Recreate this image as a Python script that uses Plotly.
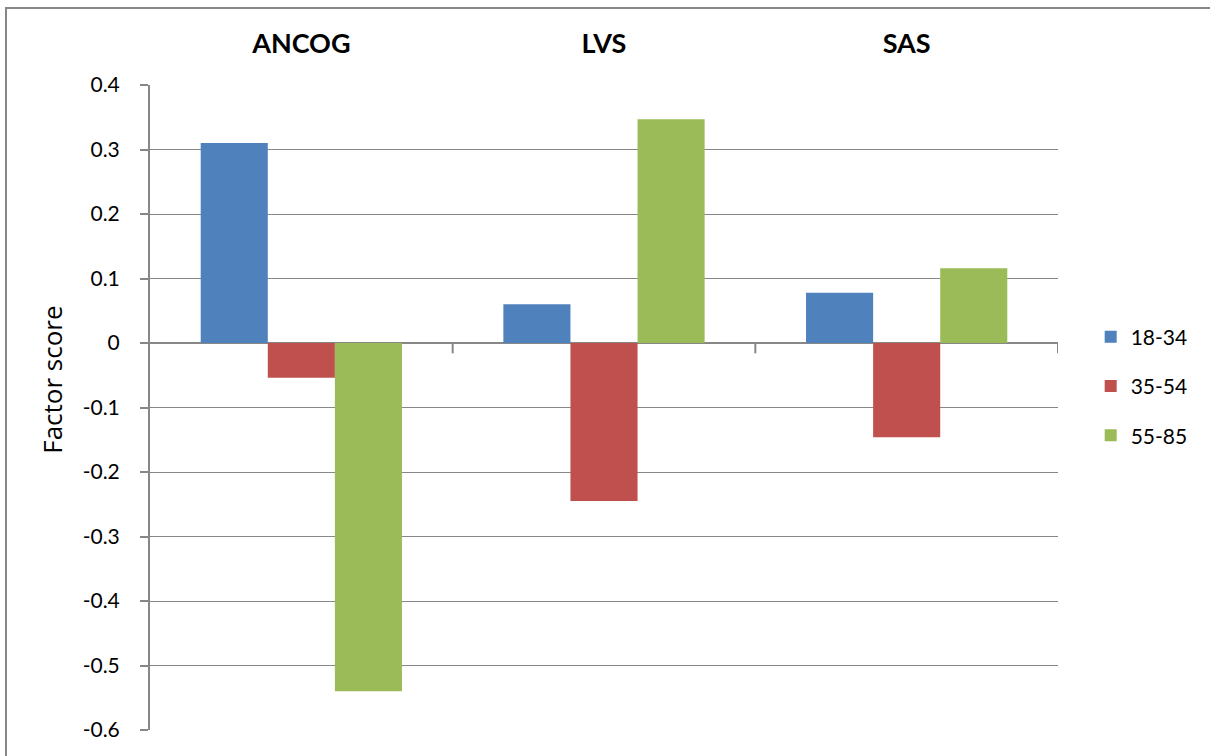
import plotly.graph_objects as go

factors = ["ANCOG", "LVS", "SAS"]
age_groups = ["18-34", "35-54", "55-85"]
score_18_34 = [0.31, 0.06, 0.078]
score_35_54 = [-0.054, -0.245, -0.146]
score_55_85 = [-0.54, 0.347, 0.116]
colors = ["#4F81BD", "#C0504D", "#9BBB59"]
y_ticks = [0.4, 0.3, 0.2, 0.1, 0, -0.1, -0.2, -0.3, -0.4, -0.5, -0.6]
y_labels = ["0.4", "0.3", "0.2", "0.1", "0", "-0.1", "-0.2", "-0.3", "-0.4", "-0.5", "-0.6"]

grey = "#878787"
font = "Lato, 'Open Sans', sans-serif"

fig = go.Figure()
for name, vals, col in zip(age_groups, [score_18_34, score_35_54, score_55_85], colors):
    fig.add_trace(go.Bar(x=factors, y=vals, name=name, marker_color=col,
                         marker_line_width=0, legendgroup=name))

# little ticks on the zero line between categories
for i in range(len(factors)):
    fig.add_shape(type="line", xref="x", yref="y", x0=i + 0.5, x1=i + 0.5,
                  y0=0, y1=-0.016, line=dict(color=grey, width=2))

# outer chart frame
fig.add_shape(type="rect", xref="paper", yref="paper", x0=-0.1586, x1=1.6,
              y0=-0.5, y1=1.1194, line=dict(color=grey, width=2), layer="below")

# y title (Excel centres it a bit above the plot middle)
fig.add_annotation(text="Factor score", textangle=-90, xref="paper", yref="paper",
                   x=-0.1079, y=0.543, xanchor="center", yanchor="middle",
                   showarrow=False, font=dict(size=26, family="'Open Sans', sans-serif"))

fig.update_layout(
    width=1210, height=756,
    margin=dict(l=150, r=152, t=85, b=26),
    plot_bgcolor="white", paper_bgcolor="white",
    barmode="group", bargap=0.335, bargroupgap=0,
    font=dict(family=font, size=21, color="black"),
    legend=dict(x=1.036, y=0.641, xanchor="left", yanchor="top",
                tracegroupgap=19, font=dict(size=21)),
    xaxis=dict(side="top", range=[-0.5, 2.5], showline=False, ticks="",
               tickfont=dict(size=27, family=font, weight="bold"),
               ticklabelstandoff=26, showgrid=False, automargin=False),
    yaxis=dict(range=[-0.6, 0.4], tickvals=y_ticks, ticktext=y_labels,
               showgrid=True, gridcolor=grey, gridwidth=1,
               zeroline=True, zerolinecolor=grey, zerolinewidth=2,
               showline=True, linecolor=grey, linewidth=2,
               ticks="outside", ticklen=8, tickcolor=grey, tickwidth=2,
               ticklabelstandoff=16, automargin=False),
)

fig.write_html("out.html", config={"displayModeBar": False},
               post_script="document.body.style.margin='0';")
